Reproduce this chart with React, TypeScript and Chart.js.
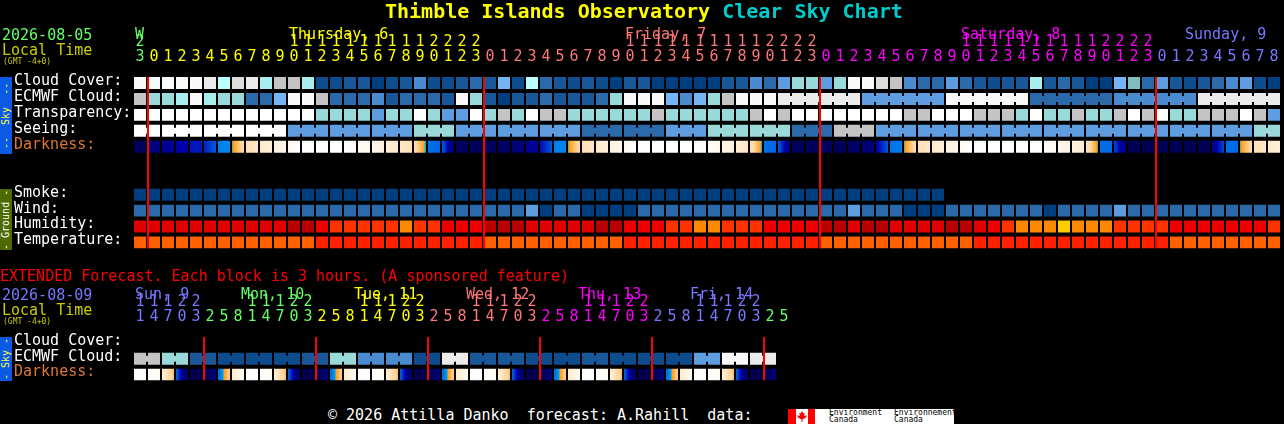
import React, { useEffect, useRef } from 'react';
import { Chart, registerables } from 'chart.js';

Chart.register(...registerables);

const MONO = '"DejaVu Sans Mono", monospace';

// ---- colours ----
const GREEN = '#66ff66';
const YELLOW = '#ffff00';
const SALMON = '#ff7777';
const MAGENTA = '#ff00ff';
const PERIWINKLE = '#7777ff';
const OLIVE = '#cccc00';
const DARKNESS_ORANGE = '#dd7733';

const skyPalette = [
    '#003f7f', '#0d4d8d', '#185898', '#2a6aaa', '#4a8ace', '#5e9ee0', '#75b5f5', '#7fbfbf',
    '#99d9d9', '#a8eeee', '#bbffff', '#c4c4c4', '#dcdcdc', '#ebebeb', '#f9f9f9', '#ffffff',
];
const humidityPalette = ['#b80000', '#e00000', '#ee0000', '#ff3300', '#ff8800', '#ffcc00'];
const temperaturePalette = ['#ff6000', '#ff2000'];

const darknessRamp: [number, string][] = [
    [-4, '#ffffff'], [-3, '#fff6e8'], [-2, '#ffe8c8'], [-1, '#ffd8a0'], [-0.3, '#ffb040'], [0, '#ff9a10'],
    [0.01, '#00c0e8'], [0.3, '#0090f0'], [1, '#0066e6'], [2, '#0030c8'], [3, '#0000aa'], [4, '#000088'],
    [5, '#00006a'], [6, '#000050'],
];

// ---- main forecast, one value per hour ----
const hours = [
    23,
    0, 1, 2, 3, 4, 5, 6, 7, 8, 9, 10, 11, 12, 13, 14, 15, 16, 17, 18, 19, 20, 21, 22, 23,
    0, 1, 2, 3, 4, 5, 6, 7, 8, 9, 10, 11, 12, 13, 14, 15, 16, 17, 18, 19, 20, 21, 22, 23,
    0, 1, 2, 3, 4, 5, 6, 7, 8, 9, 10, 11, 12, 13, 14, 15, 16, 17, 18, 19, 20, 21, 22, 23,
    0, 1, 2, 3, 4, 5, 6, 7, 8,
];
const dayNames = ['W', 'Thursday, 6', 'Friday, 7', 'Saturday, 8', 'Sunday, 9'];
const dayNameColumns = [0, 11, 35, 59, 75];
const dayStartColumns = [0, 1, 25, 49, 73];
const dayColors = [GREEN, YELLOW, SALMON, MAGENTA, PERIWINKLE];
const midnightColumns = [1, 25, 49, 73];

const rowLabels = ['Cloud Cover:', 'ECMWF Cloud:', 'Transparency:', 'Seeing:', 'Darkness:', '', '', 'Smoke:', 'Wind:', 'Humidity:', 'Temperature:'];

const cloudCover = [
    14, 14, 14, 14, 14, 13, 10, 12, 13, 9, 11, 11, 9, 1, 1, 2, 2, 0, 1, 2, 4,
    1, 1, 2, 3, 2, 6, 1, 10, 3, 2, 1, 2, 1, 0, 2, 2, 0, 0, 0, 0, 0, 2, 2, 4, 3, 5, 8, 8, 5, 8, 14,
    14, 12, 11, 4, 3, 3, 5, 3, 2, 1, 2, 2, 9, 2, 3, 2, 0, 0, 6, 7, 3, 5, 2, 1, 2, 3, 4, 5, 1, 0,
];
const ecmwfCloud = [
    11, 8, 8, 9, 14, 9, 8, 8, 3, 3, 6, 14, 14, 11, 3, 3, 3, 4, 2, 3, 3,
    3, 2, 14, 8, 2, 0, 2, 2, 3, 2, 2, 2, 3, 8, 14, 14, 14, 6, 4, 6, 8, 11, 14, 14, 14,
    13, 13, 13, 13, 13, 13, 5, 5, 5, 5, 5, 5, 14, 14, 14, 14, 14, 14,
    3, 3, 3, 3, 3, 3, 4, 4, 4, 4, 4, 4, 13, 13, 13, 13, 13, 13,
];
const ecmwfBlocks = [
    1, 1, 1, 1, 1, 1, 1, 1, 1, 1, 1, 1, 1, 1, 1, 1, 1, 1, 1, 1, 1, 1, 1,
    1, 1, 1, 1, 1, 1, 1, 1, 1, 1, 1, 1, 1, 1, 1, 1, 1, 1, 1, 1, 1, 1, 1,
    6, 6, 6, 6, 6, 6,
];
const transparency = [
    15, 15, 15, 15, 15, 15, 15, 15, 15, 15, 15, 15, 15, 8, 8, 8, 8, 5, 8, 8, 15,
    8, 5, 5, 15, 8, 11, 8, 15, 11, 11, 8, 8, 8, 8, 8, 8, 11, 8, 8, 8, 8, 8, 8, 11, 15, 11,
    15, 15, 15, 15, 15, 15, 15, 15, 11, 11, 15, 15, 15, 11, 11, 11, 8, 15, 8, 8, 11, 8, 8, 11,
    15, 11, 15, 8, 8, 11, 11, 11, 15, 11, 5,
];
const seeing = [
    15, 15, 15, 15, 15, 15, 15, 15, 15, 15, 15,
    5, 5, 5, 5, 5, 5, 5, 5, 5, 8, 8, 8, 5, 5, 5, 5, 5, 5, 5, 5, 5,
    3, 3, 3, 3, 3, 3, 5, 5, 5, 8, 8, 8, 8, 8, 8, 3, 3, 3, 11, 11, 11,
    5, 5, 5, 5, 5, 5, 5, 5, 5, 5, 5, 5, 5, 5, 5, 5, 5, 5, 5, 5, 5, 5, 5, 5, 5, 5, 5,
    8, 8,
];
const seeingBlocks = [2, 3, 3, 3, 3, 3, 3, 3, 3, 3, 3, 3, 3, 3, 3, 3, 3, 3, 3, 3, 3, 3, 3, 3, 3, 3, 3, 2];
const darknessStart = [
    5.5, 4.3, 3.6, 3, 2.5, 2.3, 0.6, 0.1, -1.4, -2, -2.6, -3.3, -4, -4, -4, -4, -3.6, -3.2, -2.6, -2, -1.3, 0.8, 1,
    5.5, 5.5, 5.5, 5.2, 4.5, 3.6, 2.8, 0.6, 0.1, -1.4, -2, -2.6, -3.4, -4, -4, -4, -4, -4, -3.6, -3, -2.5, -1.6, 0.8, 1,
    5.5, 5.5, 5.5, 5.5, 5.3, 4.6, 3.2, 0.8, 0.1, -1.5, -2, -2.6, -3.4, -4, -4, -4, -4, -4, -3.8, -3.2, -2.8, -1.8, 0.9, 1.5,
    5.8, 5.8, 5.8, 5.8, 5.8, 5.8, 4, 0.9, 0.1, -1.5, -2,
];
const darknessEnd = [
    5.5, 4.3, 3.6, 3, 2.5, 1.2, 0.4, -1.2, -1.9, -2.6, -3.2, -4, -4, -4, -4, -3.6, -3.2, -2.6, -2, -1.4, 0.15, 1, 5,
    5.5, 5.5, 5.5, 5.2, 4.5, 3.6, 1.2, 0.4, -1.2, -1.9, -2.6, -3.2, -4, -4, -4, -4, -4, -3.6, -3.2, -2.5, -1.8, 0.15, 1, 4.5,
    5.5, 5.5, 5.5, 5.5, 5.3, 4.6, 1.2, 0.6, -1.3, -2, -2.6, -3.2, -4, -4, -4, -4, -4, -4, -3.4, -2.8, -2.2, 0.15, 0.9, 4.5,
    5.8, 5.8, 5.8, 5.8, 5.8, 5.8, 1.5, 0.9, -1.2, -2, -2.5,
];
const smoke = [
    0, 0, 0, 0, 0, 0, 0, 0, 0, 0, 0, 0, 0, 0, 0, 0, 0, 0, 0, 0, 0, 0, 0, 0, 0, 0, 0, 0, 0,
    0, 0, 0, 0, 0, 0, 0, 0, 0, 0, 0, 0, 0, 0, 0, 0, 0, 0, 0, 0, 0, 0, 0, 0, 0, 0, 0, 0, 0,
];
const wind = [
    3, 3, 3, 3, 3, 3, 3, 3, 3, 3, 3, 3, 3, 3, 3, 3, 3, 3, 3, 3, 3, 3, 3, 3, 3, 3, 3, 3, 5,
    0, 3, 3, 0, 0, 0, 0, 3, 3, 3, 3, 3, 3, 3, 3, 3, 3, 3, 3, 3, 3, 3, 5, 3, 3, 3, 0, 0, 0,
    3, 3, 3, 3, 3, 3, 3, 0, 3, 3, 3, 3, 5, 3, 3, 3, 3, 3, 3, 3, 3, 3, 3, 3,
];
const humidity = [
    1, 1, 1, 1, 1, 1, 1, 1, 1, 1, 1, 0, 0, 2, 3, 3, 3, 3, 3, 4, 3,
    3, 2, 2, 2, 0, 0, 0, 1, 1, 1, 1, 1, 0, 0, 2, 2, 2, 3, 3, 4, 4, 3, 3, 3, 2, 2, 2, 2, 0, 0, 1,
    0, 0, 1, 1, 1, 1, 0, 0, 1, 2, 3, 4, 4, 4, 5, 4, 4, 4, 3, 3, 3, 3, 2, 2, 2, 2, 2, 2, 2, 3,
];
const temperature = [
    0, 0, 0, 0, 0, 0, 0, 0, 0, 0, 0, 0, 0,
    1, 1, 1, 1, 1, 1, 1, 1, 1, 1, 1, 1,
    0, 0, 0, 0, 0, 0, 0, 0, 0, 0,
    1, 1, 1, 1, 1, 1, 1, 1, 1, 1, 1, 1, 1, 1,
    0, 0, 0, 0, 0, 0, 0, 0, 0, 0, 0,
    1, 1, 1, 1, 1, 1, 1, 1, 1, 1, 1, 1, 1, 1,
    0, 0, 0, 0, 0, 0, 0, 0,
];

// ---- extended forecast, one value per 3 hours ----
const extHours = [
    11, 14, 17, 20, 23, 2, 5, 8, 11, 14, 17, 20, 23, 2, 5, 8, 11, 14, 17, 20, 23, 2, 5, 8,
    11, 14, 17, 20, 23, 2, 5, 8, 11, 14, 17, 20, 23, 2, 5, 8, 11, 14, 17, 20, 23, 2, 5,
];
const extDayNames = ['Sun, 9', 'Mon, 10', 'Tue, 11', 'Wed, 12', 'Thu, 13', 'Fri, 14'];
const extDayNameColumns = [0, 7.57, 15.64, 23.64, 31.64, 39.64];
const extDayStartColumns = [0, 5, 13, 21, 29, 37, 45];
const extDayColors = [PERIWINKLE, GREEN, YELLOW, SALMON, MAGENTA, PERIWINKLE, GREEN];
const extMidnightColumns = [5, 13, 21, 29, 37, 45];
const extRowLabels = ['Cloud Cover:', 'ECMWF Cloud:', 'Darkness:'];
const extEcmwf = [
    11, 11, 8, 8, 2, 2, 1, 1, 1, 1, 1, 1, 2, 2, 8, 8, 4, 4, 4, 4, 1, 1, 13, 13,
    2, 2, 2, 2, 1, 1, 1, 1, 2, 2, 1, 1, 1, 1, 1, 1, 5, 5, 14, 14, 13, 13,
];
const extEcmwfBlocks = [2, 2, 2, 2, 2, 2, 2, 2, 2, 2, 2, 2, 2, 2, 2, 2, 2, 2, 2, 2, 2, 2, 2];
const extDarknessStart = [
    -4, -4, -2.5, 0.9, 6, 5.8, 1, -2,
    -4, -4, -2.5, 0.9, 6, 5.8, 1, -2,
    -4, -4, -2.5, 0.9, 6, 5.8, 1, -2,
    -4, -4, -2.5, 0.9, 6, 5.8, 1, -2,
    -4, -4, -2.5, 0.9, 6, 5.8, 1, -2,
    -4, -4, -2.5, 0.9, 6, 5.8,
];
const extDarknessEnd = [
    -4, -3.5, -0.5, 5.8, 6, 4.5, -1, -3.5,
    -4, -3.5, -0.5, 5.8, 6, 4.5, -1, -3.5,
    -4, -3.5, -0.5, 5.8, 6, 4.5, -1, -3.5,
    -4, -3.5, -0.5, 5.8, 6, 4.5, -1, -3.5,
    -4, -3.5, -0.5, 5.8, 6, 4.5, -1, -3.5,
    -4, -3.5, -0.5, 5.8, 6, 4.5,
];

// ---- helpers ----
const CELL_TOP = -0.25;
const CELL_BOTTOM = 0.5;
const BRIDGE_INSET = 3 / 16;

const baseBar = { grouped: false, inflateAmount: 0, borderWidth: 0, borderSkipped: false };

function cellDataset(row: number, levels: number[], palette: string[]) {
    return {
        ...baseBar,
        barThickness: 12,
        backgroundColor: levels.map(l => palette[l]),
        data: levels.map((_, col) => ({ x: col, y: [row + CELL_TOP, row + CELL_BOTTOM] })),
    };
}

// the little joins between cells that come from one forecast step
function bridgeDataset(row: number, levels: number[], blocks: number[]) {
    const cols: number[] = [];
    let start = 0;
    blocks.forEach(size => {
        for (let i = 0; i < size - 1; i++) cols.push(start + i);
        start += size;
    });
    return {
        ...baseBar,
        barThickness: 2,
        backgroundColor: cols.map(c => skyPalette[levels[c]]),
        data: cols.map(c => ({
            x: c + 0.5,
            y: [row + CELL_TOP + BRIDGE_INSET, row + CELL_BOTTOM - BRIDGE_INSET],
        })),
    };
}

function hexToRgb(hex: string) {
    return [1, 3, 5].map(i => parseInt(hex.slice(i, i + 2), 16));
}

function darknessColor(v: number) {
    const ramp = darknessRamp;
    if (v <= ramp[0][0]) return ramp[0][1];
    for (let i = 1; i < ramp.length; i++) {
        if (v <= ramp[i][0]) {
            const t = (v - ramp[i - 1][0]) / (ramp[i][0] - ramp[i - 1][0]);
            const a = hexToRgb(ramp[i - 1][1]);
            const b = hexToRgb(ramp[i][1]);
            return `rgb(${a.map((c, k) => Math.round(c + (b[k] - c) * t)).join(',')})`;
        }
    }
    return ramp[ramp.length - 1][1];
}

function darknessDataset(row: number, start: number[], end: number[]) {
    return {
        ...baseBar,
        barThickness: 12,
        data: start.map((_, col) => ({ x: col, y: [row + CELL_TOP, row + CELL_BOTTOM] })),
        backgroundColor: (ctx: any) => {
            const chart = ctx.chart;
            if (!chart.chartArea || ctx.dataIndex === undefined) return 'transparent';
            const col = ctx.dataIndex;
            const left = chart.scales.x.getPixelForValue(col) - 6;
            const g = chart.ctx.createLinearGradient(left, 0, left + 12, 0);
            for (let i = 0; i <= 12; i++) {
                g.addColorStop(i / 12, darknessColor(start[col] + ((end[col] - start[col]) * i) / 12));
            }
            return g;
        },
    };
}

function midnightDataset(cols: number[], lastRow: number) {
    return {
        ...baseBar,
        barThickness: 2,
        backgroundColor: '#ff0000',
        data: cols.map(c => ({ x: c - 3 / 7, y: [CELL_TOP, lastRow + CELL_BOTTOM] })),
    };
}

function colorAt(col: number, starts: number[], colors: string[]) {
    let color = colors[0];
    starts.forEach((s, i) => {
        if (col >= s) color = colors[i];
    });
    return color;
}

interface GridConfig {
    hours: number[];
    rowLabels: string[];
    dayNames: string[];
    dayNameColumns: number[];
    dayStarts: number[];
    colors: string[];
    datasets: any[];
    padTop: number;
    padBottom: number;
}

function makeChart(canvas: HTMLCanvasElement, cfg: GridConfig) {
    const dayLabels = {
        id: 'dayLabels',
        afterDraw(chart: any) {
            const { ctx, scales, chartArea } = chart;
            ctx.save();
            ctx.font = `15px ${MONO}`;
            ctx.textBaseline = 'middle';
            ctx.textAlign = 'left';
            cfg.dayNames.forEach((name, i) => {
                const col = cfg.dayNameColumns[i];
                ctx.fillStyle = colorAt(Math.ceil(col), cfg.dayStarts, cfg.colors);
                ctx.fillText(name, scales.x.getPixelForValue(col) - 5, chartArea.top - 38);
            });
            ctx.restore();
        },
    };

    return new Chart(canvas, {
        type: 'bar',
        data: { datasets: cfg.datasets },
        plugins: [dayLabels],
        options: {
            animation: false,
            responsive: false,
            devicePixelRatio: 1,
            events: [],
            layout: { padding: { left: 14, right: 3, top: cfg.padTop, bottom: cfg.padBottom } },
            plugins: { legend: { display: false }, tooltip: { enabled: false } },
            scales: {
                x: {
                    type: 'linear',
                    position: 'top',
                    min: -0.5,
                    max: 81.5,
                    offset: false,
                    grid: { display: false },
                    border: { display: false },
                    // one tick per column, on the column centre
                    afterBuildTicks: (scale: any) => {
                        scale.ticks = cfg.hours.map((_, col) => ({ value: col }));
                    },
                    afterFit: (scale: any) => { scale.height = 45; },
                    ticks: {
                        autoSkip: false,
                        maxRotation: 0,
                        padding: 0,
                        font: { family: MONO, size: 15, lineHeight: 1 },
                        color: (ctx: any) => colorAt(ctx.tick.value, cfg.dayStarts, cfg.colors),
                        callback: (value: any) => {
                            const h = cfg.hours[value];
                            return h < 10 ? String(h) : [String(h).charAt(0), String(h).charAt(1)];
                        },
                    },
                },
                y: {
                    type: 'linear',
                    reverse: true,
                    min: -0.5,
                    max: cfg.rowLabels.length - 0.5,
                    grid: { display: false },
                    border: { display: false },
                    afterBuildTicks: (scale: any) => {
                        scale.ticks = cfg.rowLabels.map((_, row) => ({ value: row }));
                    },
                    afterFit: (scale: any) => { scale.width = 119; },
                    ticks: {
                        autoSkip: false,
                        padding: 0,
                        crossAlign: 'far',
                        font: { family: MONO, size: 15, lineHeight: 1 },
                        color: (ctx: any) => (cfg.rowLabels[ctx.tick.value] === 'Darkness:' ? DARKNESS_ORANGE : '#ffffff'),
                        callback: (value: any) => cfg.rowLabels[value],
                    },
                },
            },
        },
    } as any);
}

const Text: React.FC<{ x: number; y: number; color: string; size?: number; bold?: boolean; children: React.ReactNode }> = ({ x, y, color, size = 15, bold, children }) => (
    <div
        style={{
            position: 'absolute',
            left: x,
            top: y - 10,
            height: 20,
            lineHeight: '20px',
            color,
            fontFamily: MONO,
            fontSize: size,
            fontWeight: bold ? 700 : 400,
            whiteSpace: 'pre',
        }}
    >
        {children}
    </div>
);

const Strip: React.FC<{ top: number; height: number; background: string; color: string; text: string }> = ({ top, height, background, color, text }) => (
    <div
        style={{
            position: 'absolute',
            left: 0,
            top,
            width: 12,
            height,
            background,
            color,
            fontFamily: MONO,
            fontSize: 10,
            lineHeight: '12px',
            textAlign: 'center',
            whiteSpace: 'pre',
            writingMode: 'vertical-rl',
            transform: 'rotate(180deg)',
        }}
    >
        {text}
    </div>
);

const App: React.FC = () => {
    const mainRef = useRef<HTMLCanvasElement>(null);
    const extRef = useRef<HTMLCanvasElement>(null);

    useEffect(() => {
        if (!mainRef.current || !extRef.current) return;

        const main = makeChart(mainRef.current, {
            hours,
            rowLabels,
            dayNames,
            dayNameColumns,
            dayStarts: dayStartColumns,
            colors: dayColors,
            padTop: 28,
            padBottom: 7,
            datasets: [
                midnightDataset(midnightColumns, 10),
                cellDataset(0, cloudCover, skyPalette),
                cellDataset(1, ecmwfCloud, skyPalette),
                bridgeDataset(1, ecmwfCloud, ecmwfBlocks),
                cellDataset(2, transparency, skyPalette),
                cellDataset(3, seeing, skyPalette),
                bridgeDataset(3, seeing, seeingBlocks),
                darknessDataset(4, darknessStart, darknessEnd),
                cellDataset(7, smoke, skyPalette),
                cellDataset(8, wind, skyPalette),
                cellDataset(9, humidity, humidityPalette),
                cellDataset(10, temperature, temperaturePalette),
            ],
        });

        const ext = makeChart(extRef.current, {
            hours: extHours,
            rowLabels: extRowLabels,
            dayNames: extDayNames,
            dayNameColumns: extDayNameColumns,
            dayStarts: extDayStartColumns,
            colors: extDayColors,
            padTop: 8,
            padBottom: 7,
            datasets: [
                midnightDataset(extMidnightColumns, 2),
                cellDataset(1, extEcmwf, skyPalette),
                bridgeDataset(1, extEcmwf, extEcmwfBlocks),
                darknessDataset(2, extDarknessStart, extDarknessEnd),
            ],
        });

        return () => {
            main.destroy();
            ext.destroy();
        };
    }, []);

    return (
        <div style={{ position: 'relative', width: 1284, height: 424, background: '#000', overflow: 'hidden' }}>
            <style>{'body { margin: 0; background: #000; }'}</style>

            <canvas ref={mainRef} width={1284} height={256} style={{ position: 'absolute', left: 0, top: 0 }} />
            <canvas ref={extRef} width={1284} height={108} style={{ position: 'absolute', left: 0, top: 280 }} />

            <Text x={385} y={11} color={YELLOW} size={20} bold>
                Thimble Islands Observatory <span style={{ color: '#00cccc' }}>Clear Sky Chart</span>
            </Text>

            <Text x={2} y={35} color={GREEN}>2026-08-05</Text>
            <Text x={2} y={50} color={OLIVE}>Local Time</Text>
            <Text x={3} y={62} color={OLIVE} size={8}>(GMT -4+0)</Text>

            <Strip top={77} height={77} background="#0a5ae6" color="#ffff33" text="--  Sky  --" />
            <Strip top={189} height={61} background="#4f6a00" color="#ffffff" text="- Ground -" />

            <Text x={0} y={276} color="#ff0000">EXTENDED Forecast. Each block is 3 hours. (A sponsored feature)</Text>
            <Text x={2} y={295} color={PERIWINKLE}>2026-08-09</Text>
            <Text x={2} y={310} color={OLIVE}>Local Time</Text>
            <Text x={3} y={322} color={OLIVE} size={8}>(GMT -4+0)</Text>

            <Strip top={337} height={44} background="#0a5ae6" color="#ffff33" text="- Sky -" />

            <Text x={328} y={415} color="#ffffff">© 2026 Attilla Danko  forecast: A.Rahill  data:</Text>

            <div style={{ position: 'absolute', left: 788, top: 409, width: 166, height: 15, background: '#fff' }}>
                <div style={{ position: 'absolute', left: 0, top: 0, width: 8, height: 15, background: '#ff0000' }} />
                <div style={{ position: 'absolute', left: 20, top: 0, width: 7, height: 15, background: '#ff0000' }} />
                <div
                    style={{
                        position: 'absolute',
                        left: 9,
                        top: 2,
                        width: 10,
                        height: 11,
                        background: '#ff0000',
                        clipPath: 'polygon(50% 0, 65% 22%, 78% 18%, 72% 45%, 100% 38%, 90% 60%, 55% 78%, 55% 100%, 45% 100%, 45% 78%, 10% 60%, 0 38%, 28% 45%, 22% 18%, 35% 22%)',
                    }}
                />
            </div>
            <Text x={829} y={413} color="#000" size={8}>Environment</Text>
            <Text x={829} y={420} color="#000" size={8}>Canada</Text>
            <Text x={894} y={413} color="#000" size={8}>Environnement</Text>
            <Text x={894} y={420} color="#000" size={8}>Canada</Text>
        </div>
    );
};

export default App;
